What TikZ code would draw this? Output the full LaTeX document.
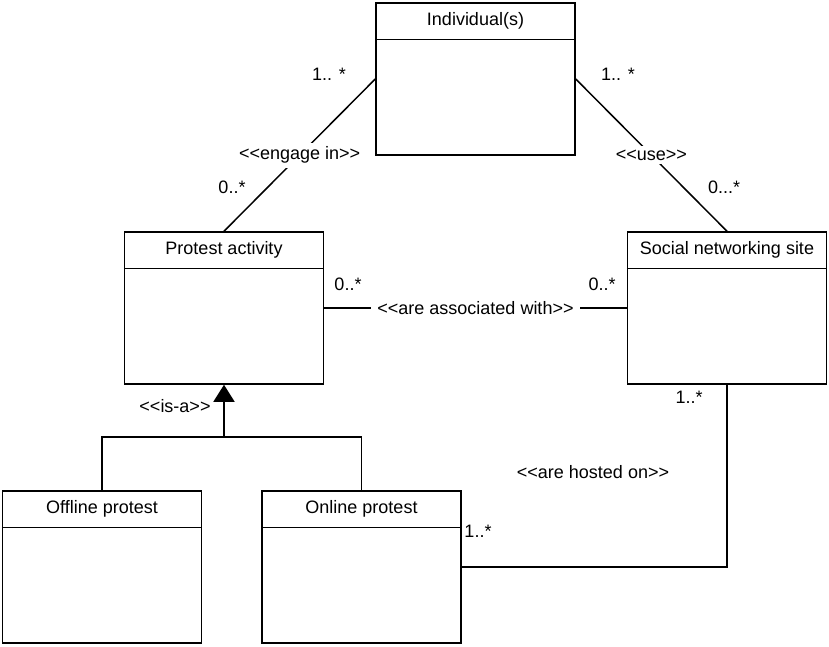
\documentclass[tikz,border=0pt]{standalone}
\usepackage{fontspec}
\setmainfont{Liberation Sans}[Ligatures=TeXOff]
\usepackage{tikz}
\usetikzlibrary{calc,arrows.meta}

\tikzset{
    cls/.style={draw, line width=1.5pt, minimum width=199pt, minimum height=152pt, inner sep=0pt},
    conn/.style={line width=1.5pt},
    stereo/.style={fill=white, inner sep=4pt},
    mult/.style={inner sep=0pt}
}

\begin{document}
\begin{tikzpicture}[x=1pt, y=-1pt, font=\fontsize{18}{21}\selectfont]
            \useasboundingbox (0,0) rectangle (829,646);

            % class boxes
            \node[cls] (ind) at (475.5, 79) {};
            \node[cls] (pa) at (224, 308) {};
            \node[cls] (sns) at (727, 308) {};
            \node[cls] (off) at (102, 567) {};
            \node[cls] (on) at (361.5, 567) {};

            \foreach \c/\t in {ind/Individual(s), pa/Protest activity, sns/Social networking site, off/Offline protest, on/Online protest} {
                \draw[conn] ($(\c.north west)+(0,37)$) -- ($(\c.north east)+(0,37)$);
                \node at ($(\c.north)+(0,18.5)$) {\t};
            }

            % associations
            \draw[conn] (ind.west) -- node[stereo] (eng) {<<engage in>>} (pa.north);
            \draw[conn] (ind.east) -- node[stereo] (use) {<<use>>} (sns.north);
            \draw[conn] (pa.east) -- node[stereo, inner sep=6pt] (asc) {<<are associated with>>} (sns.west);
            \draw[conn] (sns.south) |- (on.east);

            % generalisation
            \coordinate (j) at (224, 437);
            \draw[conn] (off.north) |- (j) -| (on.north);
            \draw[conn, -{Triangle[width=21pt, length=17pt]}] (j) -- (pa.south);

            % multiplicities and stereotypes
            \node[mult] (m1) at (329, 74) {1.. *};
            \node[mult] (m2) at (618, 74) {1.. *};
            \node[mult] (m3) at (232, 187) {0..*};
            \node[mult] (m4) at (724, 187) {0...*};
            \node[mult] (m5) at (348, 284) {0..*};
            \node[mult] (m6) at (602, 284) {0..*};
            \node[mult] (m7) at (689, 397) {1..*};
            \node[mult] (m8) at (478, 531) {1..*};
            \node[mult] (isa) at (175, 406) {<<is-a>>};
            \node[mult] (host) at (593, 472) {<<are hosted on>>};
        \end{tikzpicture}
\end{document}
